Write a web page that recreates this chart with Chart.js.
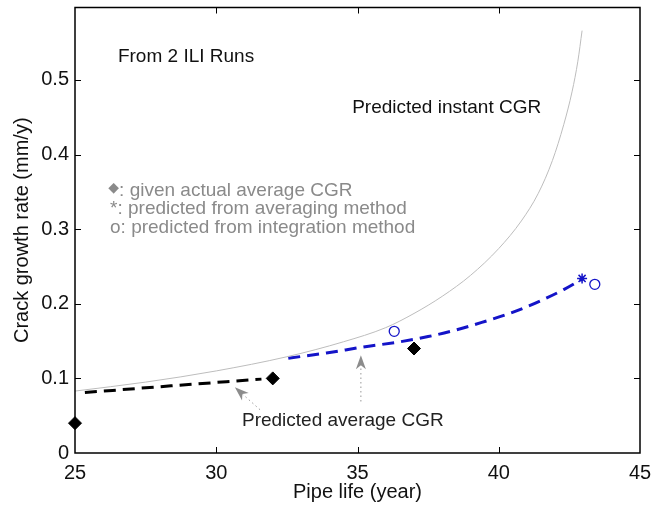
<!DOCTYPE html>
<html>
<head>
<meta charset="utf-8">
<script src="https://cdn.jsdelivr.net/npm/chart.js@4.4.0/dist/chart.umd.min.js"></script>
<style>
  html, body { margin: 0; padding: 0; background: #fff; }
  #wrap { width: 654px; height: 513px; }
</style>
</head>
<body>
<div id="wrap"><canvas id="cgrChart" width="654" height="513"></canvas></div>
<script>
// predicted instant crack growth rate
const instantYears = [25, 27.5, 30, 32.5, 34.5, 36, 37, 38, 39, 40, 40.8, 41.4, 41.9, 42.3, 42.6, 42.8, 42.95];
const instantCGR   = [0.083, 0.095, 0.110, 0.129, 0.149, 0.168, 0.187, 0.210, 0.238, 0.274, 0.311, 0.348, 0.392, 0.440, 0.485, 0.525, 0.566];

// predicted average CGR, first and second interval
const avgFirstYears = [25.35, 28.4, 31.6];
const avgFirstCGR   = [0.081, 0.090, 0.099];
const avgSecondYears = [32.55, 33.9, 35.2, 36.5, 37.5, 38.5, 39.4, 40.3, 41.0, 41.6, 42.3, 43.0];
const avgSecondCGR   = [0.127, 0.134, 0.142, 0.149, 0.156, 0.165, 0.175, 0.186, 0.196, 0.206, 0.219, 0.234];

// given actual average CGR
const actualYears = [25, 32, 37];
const actualCGR   = [0.04, 0.1, 0.14];

// predicted from integration method
const integYears = [36.3, 43.4];
const integCGR   = [0.163, 0.226];

// predicted from averaging method
const averagingYears = [42.95];
const averagingCGR   = [0.234];

const xTicks = [25, 30, 35, 40, 45];
const yTicks = [0, 0.1, 0.2, 0.3, 0.4, 0.5];

const FONT = '"Liberation Sans", Arial, sans-serif';

const pts = (xs, ys) => xs.map((x, i) => ({x: x, y: ys[i]}));

// text notes placed in data units
const notes = [
  {text: 'From 2 ILI Runs', x: 26.52, y: 0.531, color: '#111'},
  {text: 'Predicted instant CGR', x: 34.81, y: 0.463, color: '#111'},
  {text: 'Predicted average CGR', x: 30.91, y: 0.043, color: '#222'},
  {text: ': given actual average CGR', x: 26.56, y: 0.352, color: '#8a8a8a', glyph: '\u25C6'},
  {text: '*: predicted from averaging method', x: 26.24, y: 0.327, color: '#8a8a8a'},
  {text: 'o: predicted from integration method', x: 26.24, y: 0.3015, color: '#8a8a8a'}
];

// arrows: tail -> tip, in data units
const arrows = [
  {from: [31.55, 0.058], to: [30.66, 0.088]},
  {from: [35.12, 0.069], to: [35.12, 0.131]}
];

const notesPlugin = {
  id: 'notes',
  afterDatasetsDraw(chart) {
    const {ctx, scales: {x, y}} = chart;
    ctx.save();
    ctx.textBaseline = 'middle';
    notes.forEach(n => {
      const px = x.getPixelForValue(n.x);
      const py = y.getPixelForValue(n.y);
      ctx.fillStyle = n.color;
      if (n.glyph) {
        ctx.textAlign = 'right';
        ctx.font = '14px "DejaVu Sans", sans-serif';
        ctx.fillText(n.glyph, px, py - 2);
      }
      ctx.textAlign = 'left';
      ctx.font = '19px ' + FONT;
      ctx.fillText(n.text, px, py);
    });

    arrows.forEach(a => {
      const x0 = x.getPixelForValue(a.from[0]), y0 = y.getPixelForValue(a.from[1]);
      const x1 = x.getPixelForValue(a.to[0]), y1 = y.getPixelForValue(a.to[1]);
      const ang = Math.atan2(y1 - y0, x1 - x0);
      const headLen = 14, headW = 5, notch = 4;
      const bx = x1 - Math.cos(ang) * (headLen - notch);
      const by = y1 - Math.sin(ang) * (headLen - notch);
      ctx.strokeStyle = '#999';
      ctx.lineWidth = 1;
      ctx.setLineDash([1.5, 3]);
      ctx.beginPath();
      ctx.moveTo(x0, y0);
      ctx.lineTo(bx, by);
      ctx.stroke();
      ctx.setLineDash([]);
      const hx = x1 - Math.cos(ang) * headLen, hy = y1 - Math.sin(ang) * headLen;
      const nx = -Math.sin(ang), ny = Math.cos(ang);
      ctx.fillStyle = '#8c8c8c';
      ctx.beginPath();
      ctx.moveTo(x1, y1);
      ctx.lineTo(hx + nx * headW, hy + ny * headW);
      ctx.lineTo(bx, by);
      ctx.lineTo(hx - nx * headW, hy - ny * headW);
      ctx.closePath();
      ctx.fill();
    });
    ctx.restore();
  }
};

// axes box with inward ticks on all four sides
const boxPlugin = {
  id: 'box',
  afterDraw(chart) {
    const {ctx, chartArea: a, scales: {x, y}} = chart;
    ctx.save();
    ctx.strokeStyle = '#000';
    ctx.lineWidth = 1.5;
    ctx.strokeRect(a.left, a.top, a.right - a.left, a.bottom - a.top);
    ctx.lineWidth = 1;
    ctx.beginPath();
    xTicks.slice(1, -1).forEach(v => {
      const px = Math.round(x.getPixelForValue(v)) + 0.5;
      ctx.moveTo(px, a.bottom); ctx.lineTo(px, a.bottom - 6);
      ctx.moveTo(px, a.top); ctx.lineTo(px, a.top + 6);
    });
    yTicks.slice(1).forEach(v => {
      const py = Math.round(y.getPixelForValue(v)) + 0.5;
      ctx.moveTo(a.left, py); ctx.lineTo(a.left + 6, py);
      ctx.moveTo(a.right, py); ctx.lineTo(a.right - 6, py);
    });
    ctx.stroke();
    ctx.restore();
  }
};

new Chart(document.getElementById('cgrChart'), {
  type: 'line',
  data: {
    datasets: [
      {
        data: pts(instantYears, instantCGR),
        borderColor: '#bdbdbd',
        borderWidth: 1,
        pointRadius: 0,
        cubicInterpolationMode: 'monotone'
      },
      {
        data: pts(avgFirstYears, avgFirstCGR),
        borderColor: '#000',
        borderWidth: 3,
        borderDash: [12, 7],
        pointRadius: 0,
        cubicInterpolationMode: 'monotone'
      },
      {
        data: pts(avgSecondYears, avgSecondCGR),
        borderColor: '#1414c8',
        borderWidth: 3,
        borderDash: [12, 7],
        pointRadius: 0,
        cubicInterpolationMode: 'monotone'
      },
      {
        data: pts(actualYears, actualCGR),
        showLine: false,
        pointStyle: 'rectRot',
        pointRadius: 6.5,
        backgroundColor: '#000',
        borderColor: '#000',
        borderWidth: 1,
        clip: false
      },
      {
        data: pts(integYears, integCGR),
        showLine: false,
        pointStyle: 'circle',
        pointRadius: 5,
        backgroundColor: 'rgba(255,255,255,0)',
        borderColor: '#1414c8',
        borderWidth: 1.3,
        clip: false
      },
      {
        data: pts(averagingYears, averagingCGR),
        showLine: false,
        pointStyle: 'star',
        pointRadius: 5,
        borderColor: '#1414c8',
        borderWidth: 1.5,
        clip: false
      }
    ]
  },
  options: {
    responsive: false,
    animation: false,
    events: [],
    layout: { padding: { top: 7, right: 14, left: 0, bottom: 0 } },
    plugins: { legend: { display: false }, tooltip: { enabled: false } },
    scales: {
      x: {
        type: 'linear',
        min: 25,
        max: 45,
        grid: { display: false, drawTicks: false },
        border: { display: false },
        afterBuildTicks: s => { s.ticks = xTicks.map(v => ({value: v})); },
        afterFit: s => { s.height = 60; s.paddingLeft = 0; s.paddingRight = 0; },
        ticks: {
          color: '#111',
          padding: 8,
          maxRotation: 0,
          font: { family: FONT, size: 20 },
          callback: v => String(v)
        },
        title: {
          display: true,
          text: 'Pipe life (year)',
          color: '#111',
          padding: { top: 0, bottom: 9 },
          font: { family: FONT, size: 20 }
        }
      },
      y: {
        min: 0,
        max: 0.597,
        grid: { display: false, drawTicks: false },
        border: { display: false },
        afterBuildTicks: s => { s.ticks = yTicks.map(v => ({value: v})); },
        afterFit: s => { s.width = 75; s.paddingTop = 0; s.paddingBottom = 0; },
        ticks: {
          color: '#111',
          padding: 6,
          font: { family: FONT, size: 20 },
          callback: v => String(v)
        },
        title: {
          display: true,
          text: 'Crack growth rate (mm/y)',
          color: '#111',
          padding: { top: 10, bottom: 0 },
          font: { family: FONT, size: 20 }
        }
      }
    }
  },
  plugins: [notesPlugin, boxPlugin]
});
</script>
</body>
</html>
